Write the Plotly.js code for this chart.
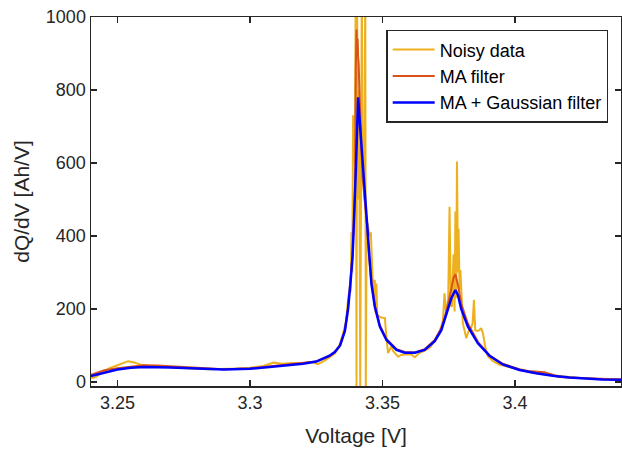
<!DOCTYPE html>
<html>
<head>
<meta charset="utf-8">
<script src="https://cdn.plot.ly/plotly-3.0.1.min.js"></script>
<style>html,body{margin:0;padding:0;background:#fff}#chart{width:622px;height:451px}</style>
</head>
<body>
<div id="chart"></div>
<script>
// Noisy data
const noisyV = [3.2400,3.2420,3.2445,3.2470,3.2500,3.2540,3.2560,3.2590,3.2620,3.2660,3.2700,3.2750,3.2800,3.2850,3.2900,3.2950,3.3000,3.3050,3.3090,3.3120,3.3160,3.3200,3.3230,3.3256,3.3280,3.3305,3.3320,3.3335,3.3350,3.3362,3.3372,3.3380,3.3383,3.3386,3.3389,3.3393,3.3396,3.3399,3.3402,3.3404,3.3407,3.3410,3.3413,3.3416,3.3419,3.3422,3.3425,3.3428,3.3431,3.3435,3.3437,3.3440,3.3444,3.3450,3.3456,3.3460,3.3464,3.3468,3.3471,3.3474,3.3477,3.3480,3.3485,3.3490,3.3500,3.3509,3.3515,3.3521,3.3528,3.3534,3.3540,3.3548,3.3559,3.3570,3.3590,3.3610,3.3622,3.3640,3.3660,3.3680,3.3700,3.3715,3.3728,3.3734,3.3740,3.3748,3.3753,3.3758,3.3762,3.3768,3.3772,3.3775,3.3778,3.3781,3.3785,3.3787,3.3791,3.3794,3.3799,3.3803,3.3810,3.3816,3.3825,3.3835,3.3840,3.3845,3.3850,3.3858,3.3866,3.3872,3.3879,3.3888,3.3898,3.3910,3.3916,3.3940,3.3980,3.4020,3.4060,3.4100,3.4150,3.4200,3.4250,3.4300,3.4350,3.4400];
const noisyQ = [10,14,28,38,46,57,54,47,44,42,40,38,36,35,35,37,39,44,53,50,52,52,55,49,58,69,78,95,130,165,240,250,410,300,728,728,600,1100,-20,1100,500,800,600,-20,700,1100,550,600,500,1100,-20,430,435,400,410,300,260,230,280,190,270,185,180,178,176,175,120,79,90,97,85,78,69,74,76,75,68,80,86,95,115,135,170,243,185,230,480,210,206,350,193,467,230,604,300,420,252,307,220,161,140,120,140,150,160,225,142,140,142,148,134,95,70,60,58,48,40,32,26,22,18,12,10,8,7,6];

// MA filter
const maV = [3.240,3.245,3.250,3.255,3.260,3.265,3.270,3.280,3.290,3.300,3.310,3.320,3.325,3.330,3.332,3.334,3.3358,3.337,3.3379,3.3387,3.3392,3.3396,3.3399,3.3402,3.3404,3.3406,3.3408,3.3410,3.3413,3.3416,3.3420,3.3425,3.3430,3.3436,3.3442,3.3449,3.3458,3.3471,3.349,3.3515,3.3553,3.3584,3.3622,3.3659,3.3697,3.3722,3.3734,3.3747,3.3760,3.3768,3.3775,3.3780,3.3785,3.3797,3.3822,3.3860,3.3904,3.3954,3.4017,3.405,3.408,3.411,3.4142,3.416,3.420,3.4268,3.433,3.440];
const maQ = [20,32,38,43,46,45,43,38,35,37,44,52,56,70,82,102,140,205,275,350,440,520,850,966,900,940,891,874,800,700,640,560,520,470,425,345,275,210,155,118,90,82,81,90,115,148,175,212,255,285,295,280,265,215,160,110,72,50,35,30,29,27,20,14,12,10,8,7];

// MA + Gaussian filter
const gaussV = [3.240,3.245,3.250,3.255,3.260,3.270,3.280,3.290,3.300,3.310,3.320,3.325,3.330,3.332,3.334,3.3358,3.337,3.3379,3.3387,3.3392,3.3396,3.3400,3.3404,3.3408,3.3415,3.3422,3.3429,3.3436,3.3442,3.3449,3.3458,3.3471,3.349,3.3515,3.3553,3.3584,3.3622,3.3659,3.3697,3.3722,3.3734,3.3747,3.376,3.3775,3.3785,3.3797,3.3822,3.3860,3.3904,3.3954,3.4017,3.408,3.4142,3.4205,3.4268,3.433,3.440];
const gaussQ = [16,26,34,39,41,40,36,34,36,42,50,56,72,82,100,140,200,270,343,435,499,593,687,780,705,635,565,499,430,343,270,206,152,115,88,80,80,88,112,142,170,197,230,252,238,200,152,106,72,48,33,24,17,12,9,7,6];

const xTicks = [3.25, 3.3, 3.35, 3.4];
const xTickText = ['3.25', '3.3', '3.35', '3.4'];
const yTicks = [0, 200, 400, 600, 800, 1000];

const axisColor = '#262626';
const traces = [
  {x: noisyV, y: noisyQ, type: 'scatter', mode: 'lines', name: 'Noisy data', line: {color: '#EDB120', width: 2}},
  {x: maV, y: maQ, type: 'scatter', mode: 'lines', name: 'MA filter', line: {color: '#D95319', width: 2}},
  {x: gaussV, y: gaussQ, type: 'scatter', mode: 'lines', name: 'MA + Gaussian filter', line: {color: '#0000FF', width: 2.5}}
];
const layout = {
  width: 622, height: 451,
  margin: {l: 91, r: 1, t: 17, b: 65},
  paper_bgcolor: '#fff', plot_bgcolor: '#fff',
  font: {family: 'Liberation Sans, Arial, sans-serif', size: 18, color: axisColor},
  showlegend: true,
  legend: {x: 0.557, y: 0.965, xanchor: 'left', yanchor: 'top', bgcolor: '#fff', bordercolor: axisColor, borderwidth: 1.5, itemwidth: 42, tracegroupgap: 0, font: {size: 18, color: '#000'}},
  xaxis: {
    range: [3.24, 3.44], tickvals: xTicks, ticktext: xTickText,
    ticks: 'inside', ticklen: 6, tickcolor: axisColor, tickwidth: 1.5,
    showline: true, linecolor: axisColor, linewidth: 1.5, mirror: 'ticks',
    showgrid: false, zeroline: false,
    title: {text: 'Voltage [V]', font: {size: 21, color: axisColor}, standoff: 16}
  },
  yaxis: {
    range: [-11, 1000], tickvals: yTicks,
    ticks: 'inside', ticklen: 6, tickcolor: axisColor, tickwidth: 1.5,
    showline: true, linecolor: axisColor, linewidth: 1.5, mirror: 'ticks',
    showgrid: false, zeroline: false,
    title: {text: 'dQ/dV [Ah/V]', font: {size: 21, color: axisColor}, standoff: 10}
  }
};
Plotly.newPlot('chart', traces, layout, {displayModeBar: false, staticPlot: true});
</script>
</body>
</html>
